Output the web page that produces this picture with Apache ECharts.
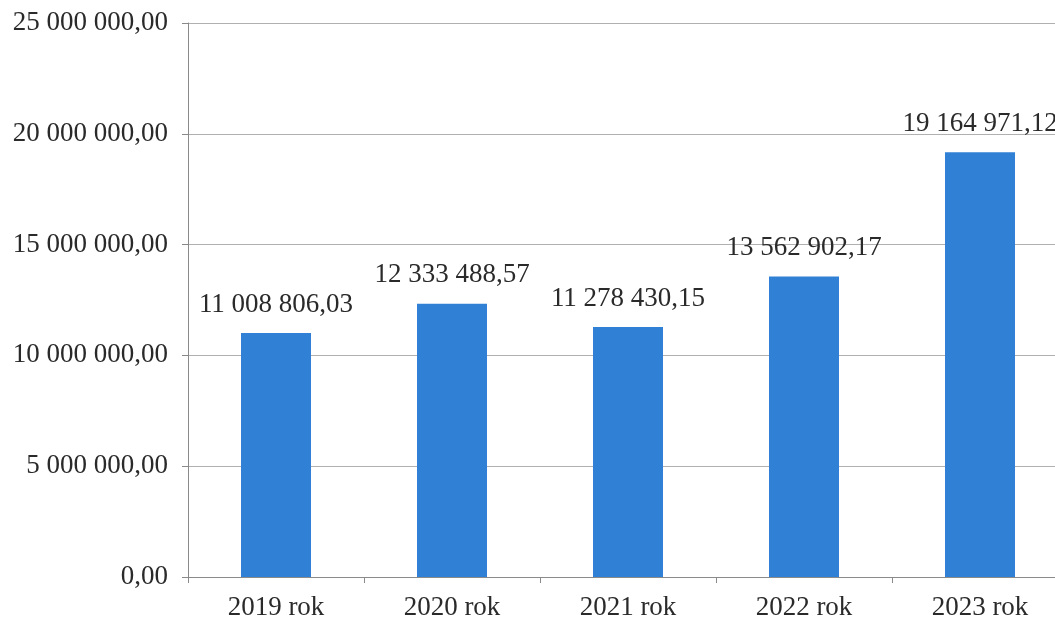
<!DOCTYPE html>
<html>
<head>
<meta charset="utf-8">
<script src="https://cdn.jsdelivr.net/npm/echarts@6/dist/echarts.min.js"></script>
<style>
  html, body { margin: 0; padding: 0; background: #fff; overflow: hidden; }
  /* the original picture is cropped on the right, so the chart is a bit wider than the window */
  #chart { width: 1068px; height: 621px; }
</style>
</head>
<body>
<div id="chart"></div>
<script>
const categories = ['2019 rok', '2020 rok', '2021 rok', '2022 rok', '2023 rok'];
const values = [11008806.03, 12333488.57, 11278430.15, 13562902.17, 19164971.12];

// 11 008 806,03 style
function fmt(v) {
    let parts = v.toFixed(2).split('.');
    let intPart = parts[0].replace(/\B(?=(\d{3})+(?!\d))/g, ' ');
    return intPart + ',' + parts[1];
}

let myChart = echarts.init(document.getElementById('chart'));
let font = '"Liberation Serif", "DejaVu Serif", serif';
let option = {
    backgroundColor: '#fff',
    animation: false,
    grid: {
        left: 188,
        right: 0,
        top: 23,
        bottom: 44,
        containLabel: false
    },
    xAxis: {
        type: 'category',
        data: categories,
        axisLine: { lineStyle: { color: '#8a8a8a', width: 1 } },
        axisTick: { show: true, length: 6, lineStyle: { color: '#8a8a8a' } },
        axisLabel: {
            color: '#2a2a2a',
            fontFamily: font,
            fontSize: 27,
            margin: 17
        }
    },
    yAxis: {
        type: 'value',
        min: 0,
        max: 25000000,
        interval: 5000000,
        axisLine: { show: true, lineStyle: { color: '#8a8a8a', width: 1 } },
        axisTick: { show: true, length: 6, lineStyle: { color: '#8a8a8a' } },
        splitLine: { lineStyle: { color: '#b0b0b0', width: 1 } },
        axisLabel: {
            color: '#2a2a2a',
            fontFamily: font,
            fontSize: 27,
            margin: 20,
            formatter: function (v) { return fmt(v); }
        }
    },
    series: [{
        type: 'bar',
        data: values,
        barWidth: 70,
        itemStyle: { color: '#3080d6' },
        label: {
            show: true,
            position: 'top',
            distance: 15,
            color: '#2a2a2a',
            fontFamily: font,
            fontSize: 27,
            formatter: function (p) { return fmt(p.value); }
        }
    }]
};
myChart.setOption(option);
window.onresize = function () {
    myChart.resize();
};
</script>
</body>
</html>
